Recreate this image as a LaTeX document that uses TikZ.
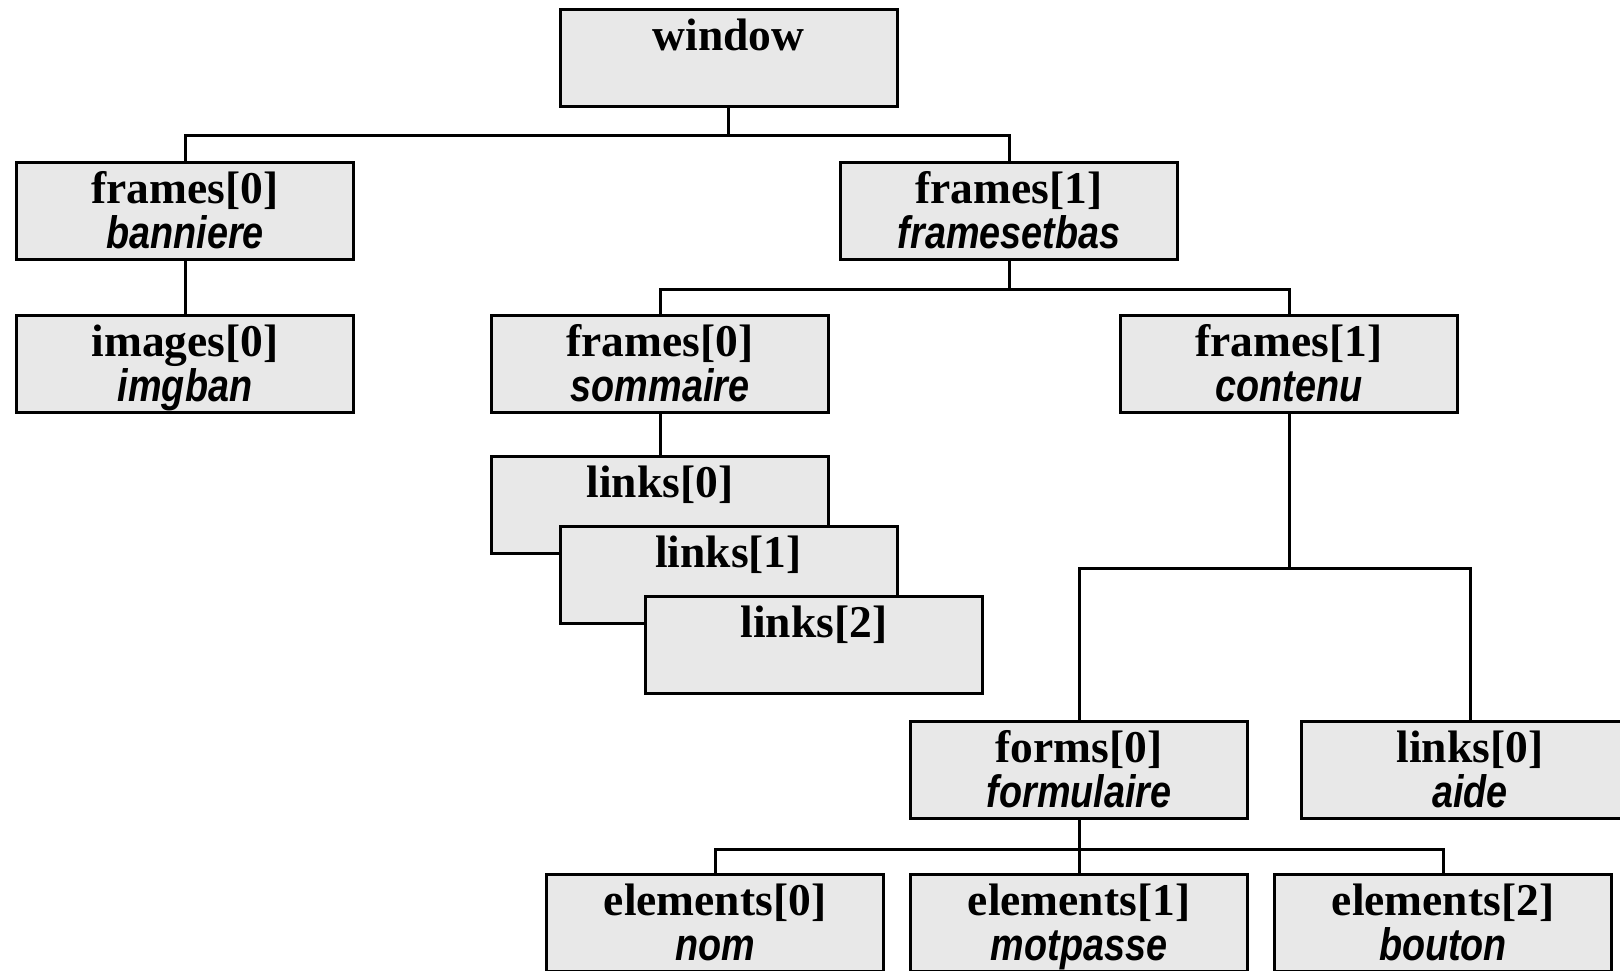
\documentclass[tikz,border=0pt]{standalone}
\usepackage{fontspec}
\setmainfont{Liberation Serif}
\newfontfamily\condsans[FakeStretch=0.83]{Liberation Sans}
\usetikzlibrary{positioning}
\definecolor{boxgray}{HTML}{E8E8E8}
\newcommand{\objname}[1]{{\condsans\bfseries\itshape #1}}

\begin{document}
\begin{tikzpicture}[x=1pt,y=1pt]
\tikzstyle{obj}=[rectangle,draw=black,line width=3pt,fill=boxgray,
node distance=153pt,inner sep=0pt,minimum width=337pt,minimum height=97pt,
text width=337pt,text height=41pt,text depth=56pt,align=center,
font=\fontsize{45.5}{45}\selectfont\bfseries]
\tikzstyle{bus}=[line width=3pt]
\useasboundingbox (0,0) rectangle (1620,971);

\node[obj] at (728.5,912.5) (window) {window};
\node[obj,below of =window,xshift=-543.5pt] (banniere) {frames[0]\\ \objname{banniere}};
\node[obj,below of =window,xshift=280.5pt] (framesetbas) {frames[1]\\ \objname{framesetbas}};
\node[obj,below of =banniere] (imgban) {images[0]\\ \objname{imgban}};
\node[obj,below of =framesetbas,xshift=-349pt] (sommaire) {frames[0]\\ \objname{sommaire}};
\node[obj,below of =framesetbas,xshift=280pt] (contenu) {frames[1]\\ \objname{contenu}};
\node[obj,below of =sommaire,yshift=12pt] (links0) {links[0]};
\node[obj,below of =links0,xshift=68.5pt,yshift=83pt] (links1) {links[1]};
\node[obj,below of =links1,xshift=85.5pt,yshift=83pt] (links2) {links[2]};
\node[obj,below of =contenu,xshift=-210pt,yshift=-252.5pt] (formulaire) {forms[0]\\ \objname{formulaire}};
\node[obj,right of =formulaire,xshift=238pt] (aide) {links[0]\\ \objname{aide}};
\node[obj,below of =formulaire] (motpasse) {elements[1]\\ \objname{motpasse}};
\node[obj,left of =motpasse,xshift=-211pt] (nom) {elements[0]\\ \objname{nom}};
\node[obj,right of =motpasse,xshift=211pt] (bouton) {elements[2]\\ \objname{bouton}};

\draw[bus] (window.south) -- ++(0,-27) -| (banniere.north);
\draw[bus] (window.south) -- ++(0,-27) -| (framesetbas.north);
\draw[bus] (banniere) -- (imgban);
\draw[bus] (framesetbas.south) -- ++(0,-28) -| (sommaire.north);
\draw[bus] (framesetbas.south) -- ++(0,-28) -| (contenu.north);
\draw[bus] (sommaire) -- (links0);
\draw[bus] (contenu.south) -- ++(0,-154) -| (formulaire.north);
\draw[bus] (contenu.south) -- ++(0,-154) -| (aide.north);
\draw[bus] (formulaire.south) -- ++(0,-30) -| (nom.north);
\draw[bus] (formulaire) -- (motpasse);
\draw[bus] (formulaire.south) -- ++(0,-30) -| (bouton.north);

\end{tikzpicture}
\end{document}
